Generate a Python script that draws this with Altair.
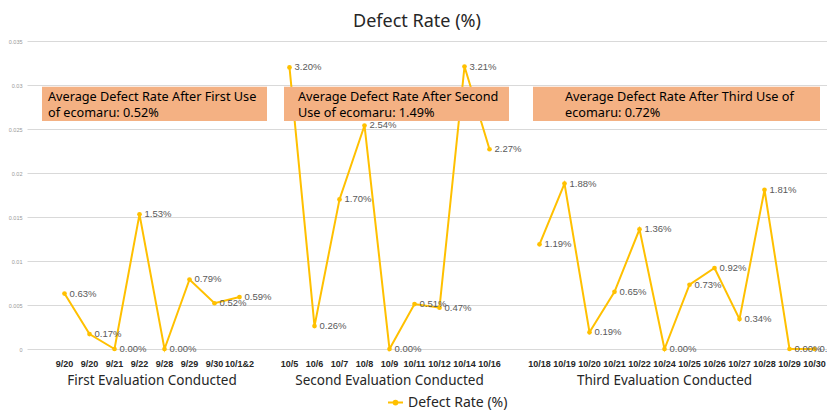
import altair as alt
import pandas as pd

# ---- data ----
dates1 = ["9/20", "9/20", "9/21", "9/22", "9/28", "9/29", "9/30", "10/1&2"]
rates1 = [0.0063, 0.0017, 0.0, 0.0153, 0.0, 0.0079, 0.0052, 0.0059]

dates2 = ["10/5", "10/6", "10/7", "10/8", "10/9", "10/11", "10/12", "10/14", "10/16"]
rates2 = [0.0320, 0.0026, 0.0170, 0.0254, 0.0, 0.0051, 0.0047, 0.0321, 0.0227]

dates3 = ["10/18", "10/19", "10/20", "10/21", "10/22", "10/24", "10/25",
          "10/26", "10/27", "10/28", "10/29", "10/30"]
rates3 = [0.0119, 0.0188, 0.0019, 0.0065, 0.0136, 0.0, 0.0073, 0.0092,
          0.0034, 0.0181, 0.0, 0.0]

group_names = ["First Evaluation Conducted", "Second Evaluation Conducted",
               "Third Evaluation Conducted"]
group_label_slot = [4.5, 14, 25]

annot_text = [
    "Average Defect Rate After First Use\nof ecomaru: 0.52%",
    "Average Defect Rate After Second\nUse of ecomaru: 1.49%",
    "Average Defect Rate After Third Use of\necomaru: 0.72%",
]
annot_x1 = [0.1, 9.78, 19.74]
annot_x2 = [9.1, 18.78, 31.22]
annot_tx = [0.34, 10.34, 21.02]
annot_y1 = [0.0259, 0.0259, 0.0259]
annot_y2 = [0.0298, 0.0298, 0.0298]

y_ticks = [0, 0.005, 0.01, 0.015, 0.02, 0.025, 0.03, 0.035]
SERIES = "Defect Rate (%)"
LINE_COLOR = "#FFC000"

# ---- build tables: one empty category slot before each group ----
rows = []
slot = 0
for g, (ds, rs) in enumerate([(dates1, rates1), (dates2, rates2), (dates3, rates3)]):
    slot += 1
    for d, r in zip(ds, rs):
        rows.append({"slot": slot, "date": d, "rate": r, "group": g, "series": SERIES})
        slot += 1
df = pd.DataFrame(rows)
n_slots = slot

groups_df = pd.DataFrame({"slot": group_label_slot, "name": group_names})
annot_df = pd.DataFrame({"x1": annot_x1, "x2": annot_x2, "tx": annot_tx,
                         "y1": annot_y1, "y2": annot_y2, "text": annot_text})
annot_df["ym"] = (annot_df["y1"] + annot_df["y2"]) / 2

x_scale = alt.Scale(domain=[-0.5, n_slots - 0.5], nice=False, zero=False)
y_scale = alt.Scale(domain=[0, 0.035], nice=False)

x_enc = alt.X("slot:Q", scale=x_scale, title=None, axis=None)
y_enc = alt.Y("rate:Q", scale=y_scale, title=None,
              axis=alt.Axis(values=y_ticks, format="~g", grid=True, gridColor="#D9D9D9",
                            domain=False, ticks=False, labelFontSize=5.5, labelColor="#999999",
                            labelPadding=5, labelFont="Liberation Sans"))

base = alt.Chart(df)

line = base.mark_line(strokeWidth=2).encode(
    x=x_enc, y=y_enc, detail="group:N",
    color=alt.Color("series:N", scale=alt.Scale(range=[LINE_COLOR]), title=None,
                    legend=alt.Legend(orient="none", legendX=360, legendY=353,
                                      labelFontSize=14, labelColor="#262626",
                                      labelFont="Noto Sans",
                                      symbolType="M-1,0L1,0M-0.25,0A0.25,0.25,0,1,1,0.25,0A0.25,0.25,0,1,1,-0.25,0Z",
                                      symbolSize=225, symbolStrokeWidth=2,
                                      symbolFillColor=LINE_COLOR,
                                      symbolStrokeColor=LINE_COLOR)),
)
points = base.mark_point(filled=True, size=22, color=LINE_COLOR, opacity=1).encode(
    x="slot:Q", y="rate:Q")
labels_layer = base.mark_text(align="left", baseline="middle", dx=5, fontSize=9.5,
                              color="#595959", font="Liberation Sans").encode(
    x="slot:Q", y="rate:Q", text=alt.Text("rate:Q", format=".2%"))

x_labels = base.mark_text(align="center", baseline="middle", fontSize=9,
                          fontWeight="bold", color="#262626", font="Liberation Sans").encode(
    x="slot:Q", y=alt.value(323), text="date:N")

group_text = alt.Chart(groups_df).mark_text(
    baseline="middle", align="center", fontSize=13.5, color="#262626", font="Noto Sans"
).encode(x=alt.X("slot:Q", scale=x_scale), y=alt.value(340), text="name:N")

boxes = alt.Chart(annot_df).mark_rect(color="#F4B183").encode(
    x=alt.X("x1:Q", scale=x_scale), x2="x2:Q",
    y=alt.Y("y1:Q", scale=y_scale), y2="y2:Q")
box_text = alt.Chart(annot_df).mark_text(
    align="left", baseline="middle", fontSize=12.7, lineBreak="\n", lineHeight=16, dy=-7,
    color="#000000", font="Noto Sans"
).encode(x=alt.X("tx:Q", scale=x_scale), y=alt.Y("ym:Q", scale=y_scale), text="text:N")

chart = alt.layer(line, points, labels_layer, x_labels, boxes, box_text, group_text).properties(
    width=800, height=308,
    padding={"left": 19, "top": 33, "right": 0, "bottom": 62},
    autosize=alt.AutoSizeParams(type="none"),
    title=alt.TitleParams(SERIES, fontSize=18, fontWeight="normal", color="#262626",
                          font="Noto Sans", anchor="middle", dx=-10, offset=8),
).configure_view(stroke=None)

chart.save("out.html", embed_options={"renderer": "svg", "actions": False})
